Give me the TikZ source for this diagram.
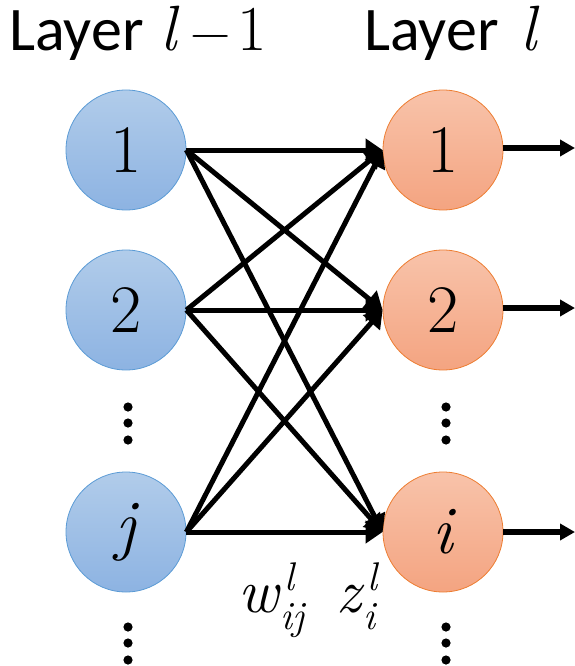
\documentclass[tikz,border=0pt]{standalone}
\usepackage{fontspec}
\newfontfamily\titlefont{Carlito}
\usetikzlibrary{arrows.meta}

\definecolor{inTop}{HTML}{B1CCEA}
\definecolor{inBot}{HTML}{8DB3E2}
\definecolor{inEdge}{HTML}{5B9BD5}
\definecolor{outTop}{HTML}{F8C3AA}
\definecolor{outBot}{HTML}{F4A481}
\definecolor{outEdge}{HTML}{ED7D31}

% italic letters at main and script size
\newcommand{\ivar}[1]{{\itshape #1}}
\newcommand{\iscript}[1]{{\fontsize{40}{42}\selectfont\itshape #1}}

\tikzset{
  neuron/.style={circle, minimum size=120pt, inner sep=0pt, line width=0.8pt,
    font=\fontsize{68}{70}\selectfont},
  inneuron/.style={neuron, draw=inEdge, top color=inTop, bottom color=inBot},
  outneuron/.style={neuron, draw=outEdge, top color=outTop, bottom color=outBot},
  conn/.style={line width=5pt, -{Triangle[length=17pt,width=22pt]}},
  outconn/.style={line width=5.5pt, -{Triangle[length=15pt,width=16pt]}},
  heading/.style={anchor=base west, inner sep=0pt, font=\fontsize{62}{70}\selectfont\titlefont},
  hvar/.style={anchor=base west, inner sep=0pt, font=\fontsize{64}{70}\selectfont},
  wlabel/.style={anchor=base west, inner sep=0pt, font=\fontsize{62}{70}\selectfont}
}

\begin{document}
\begin{tikzpicture}[x=1pt, y=-1pt]
  \useasboundingbox (0,0) rectangle (575,666);

  % layer headings
  \node[heading] (hl) at (9,51) {Layer};
  \node[hvar] (hlv) at (160,51) {\ivar{l}};
  \node[hvar] (hlm) at (190,51) {\fontsize{56}{60}\selectfont −};
  \node[hvar] (hln) at (237,51) {1};
  \node[heading] (hr) at (364,51) {Layer};
  \node[hvar] (hrv) at (520,51) {\ivar{l}};

  % layer l-1
  \node[inneuron] (l1) at (126,150) {1};
  \node[inneuron] (l2) at (126,310) {2};
  \node[inneuron] (lj) at (126,532) {\ivar{j}};

  % layer l
  \node[outneuron] (r1) at (443,150) {1};
  \node[outneuron] (r2) at (443,310) {2};
  \node[outneuron] (ri) at (443,532) {\ivar{i}};

  % full connections between the layers
  \foreach \s in {l1,l2,lj}
    \foreach \t in {r1,r2,ri}
      \draw[conn] (\s.east) -- (\t.west);

  % outputs
  \coordinate (o1) at (575,148);
  \coordinate (o2) at (575,308);
  \coordinate (oi) at (575,532);
  \draw[outconn] (r1.east |- o1) -- (o1);
  \draw[outconn] (r2.east |- o2) -- (o2);
  \draw[outconn] (ri.east) -- (oi);

  % vertical ellipses
  \foreach \x in {128,446}
    \foreach \y in {407,423,440,627,643,660}
      \fill[black] (\x,\y) circle[radius=4.6pt];

  % weight and input labels
  \node[wlabel] (w) at (238,612)
    {\ivar{w}\kern2pt\rlap{\raisebox{22pt}{\kern4pt\iscript{l}}}\raisebox{-17pt}{\iscript{ij}}};
  \node[wlabel] (z) at (336,612)
    {\ivar{z}\kern2pt\rlap{\raisebox{22pt}{\kern4pt\iscript{l}}}\raisebox{-17pt}{\iscript{i}}};
\end{tikzpicture}
\end{document}
